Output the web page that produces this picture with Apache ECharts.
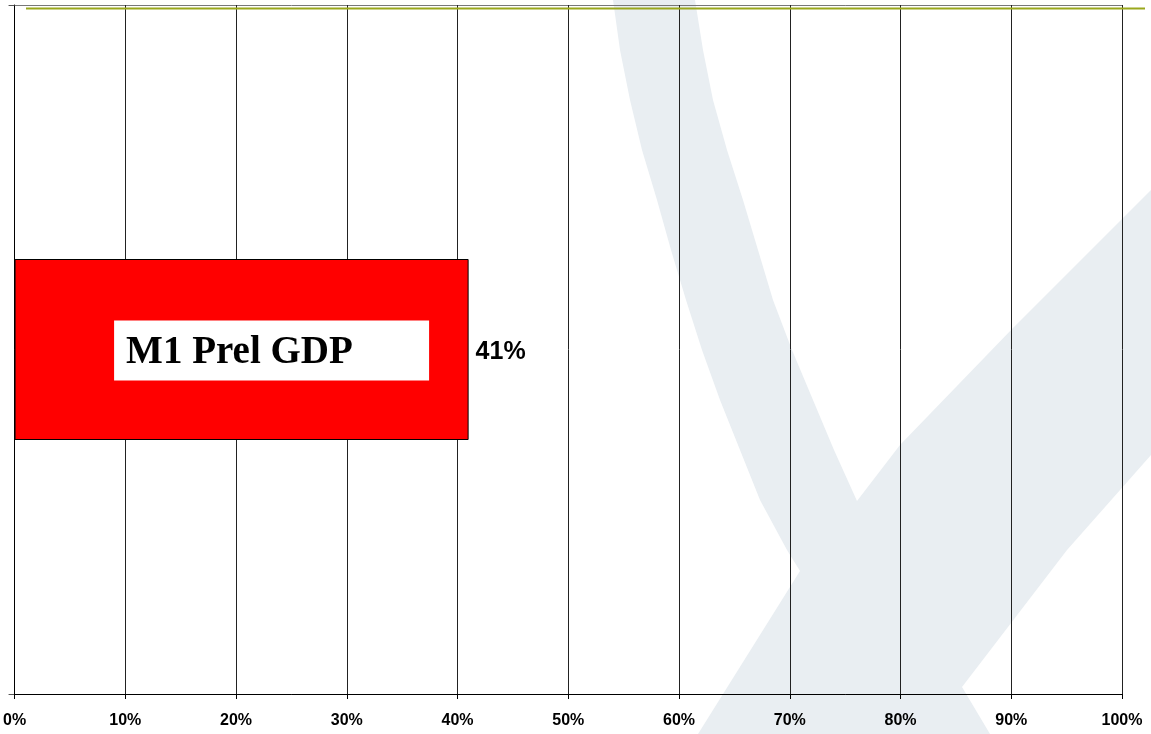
<!DOCTYPE html>
<html>
<head>
<meta charset="utf-8">
<script src="https://cdn.jsdelivr.net/npm/echarts@6/dist/echarts.min.js"></script>
<style>html,body{margin:0;padding:0;background:#fff;}#c{width:1151px;height:734px;}</style>
</head>
<body>
<div id="c"></div>
<script>
const categories = ['M1 Prel GDP'];
const values = [41];
const xTicks = { min: 0, max: 100, interval: 10 };

const chart = echarts.init(document.getElementById('c'), null, { renderer: 'canvas' });

const watermark = [
  [613,0],[620,50],[630,100],[642,150],[657,200],[671,250],[686,300],[702,350],[720,400],[740,450],[760,500],[787,550],[800,571],
  [698,734],[990,734],[962,687],[1067,550],[1151,455],[1151,190],[1013,328],[900,445],[857,501],
  [834,450],[813,400],[792,350],[773,300],[758,250],[743,200],[727,150],[713,100],[703,50],[695,0]
];

chart.setOption({
  animation: false,
  backgroundColor: '#ffffff',
  graphic: [
    { type: 'polygon', z: -100, silent: true, shape: { points: watermark }, style: { fill: '#e9eef2' } },
    { type: 'line', z: 100, silent: true, shape: { x1: 26, y1: 8.5, x2: 1145, y2: 8.5 }, style: { stroke: '#9aa81c', lineWidth: 2 } }
  ],
  grid: { left: 14, right: 29, top: 5, bottom: 40, containLabel: false },
  xAxis: {
    type: 'value', min: xTicks.min, max: xTicks.max, interval: xTicks.interval,
    axisLine: { show: true, lineStyle: { color: '#000', width: 1 } },
    axisTick: { show: true, length: 5, lineStyle: { color: '#000' } },
    splitLine: { show: true, lineStyle: { color: '#222', width: 1 } },
    axisLabel: { formatter: '{value}%', color: '#000', fontFamily: 'Liberation Sans, Arial', fontWeight: 'bold', fontSize: 16, margin: 19 }
  },
  yAxis: {
    type: 'category', data: categories,
    axisLine: { show: true, lineStyle: { color: '#000', width: 1 } },
    axisTick: { show: true, length: 6, lineStyle: { color: '#555' } },
    axisLabel: { show: false },
    splitLine: { show: true, lineStyle: { color: '#777', width: 1 } }
  },
  series: [
    {
      type: 'bar', data: values, barWidth: 181, z: 3,
      itemStyle: { color: '#ff0000', borderColor: '#000', borderWidth: 1 },
      label: {
        show: true, position: 'inside', offset: [30, 1],
        formatter: (p) => '{t|' + p.name + '}',
        backgroundColor: '#fff', padding: [12, 10, 8, 12],
        rich: {
          t: {
            width: 293, height: 40, lineHeight: 40, align: 'left', verticalAlign: 'middle',
            color: '#000', fontFamily: 'Liberation Serif, Times New Roman', fontWeight: 'bold', fontSize: 39
          }
        }
      }
    },
    {
      type: 'bar', data: values, barWidth: 181, barGap: '-100%', z: 4,
      itemStyle: { color: 'rgba(0,0,0,0)' },
      label: {
        show: true, position: 'right', distance: 7, offset: [0, 3], formatter: (p) => p.value + '%',
        color: '#000', fontFamily: 'Liberation Sans, Arial', fontWeight: 'bold', fontSize: 25
      }
    }
  ]
});
</script>
</body>
</html>
